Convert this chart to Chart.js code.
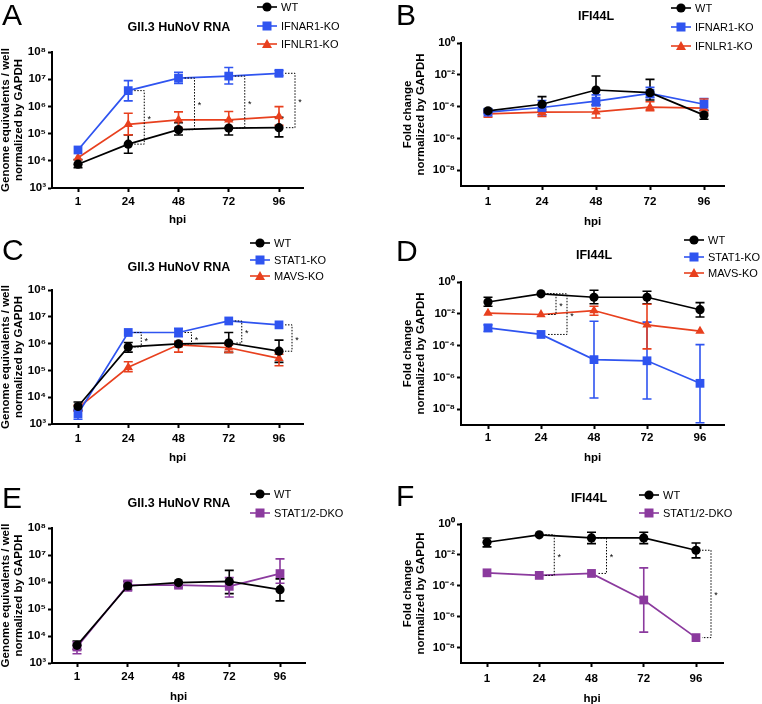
<!DOCTYPE html>
<html>
<head>
<meta charset="utf-8">
<script src="https://cdn.jsdelivr.net/npm/chart.js"></script>
<style>
  body { margin: 0; background: #fff; font-family: "Liberation Sans", Arial, sans-serif; color: #000; }
  #fig { position: relative; width: 762px; height: 704px; overflow: hidden; }
  #fig canvas { position: absolute; }
  .letter { position: absolute; font-size: 30px; line-height: 30px; }
  .ttl { position: absolute; font-size: 12.5px; font-weight: bold; white-space: nowrap; transform: translate(-50%, -50%); }
  .leg { position: absolute; font-size: 11px; white-space: nowrap; display: flex; align-items: center; transform: translateY(-50%); }
  .leg svg { margin-right: 4px; }
</style>
</head>
<body>
<div id="fig"></div>
<script>
// =============== data ===============
const HPI = ["1", "24", "48", "72", "96"];

// A - GII.3 HuNoV RNA, IFN receptor KOs
const A_WT         = [7.5e3, 4.1e4, 1.4e5, 1.6e5, 1.65e5];
const A_WT_ERR     = [[5.6e3, 1.1e4], [1.9e4, 9e4], [8.9e4, 2.5e5], [8.9e4, 3.2e5], [7.6e4, 4e5]];
const A_IFNAR1     = [2.5e4, 3.8e6, 1.1e7, 1.3e7, 1.65e7];
const A_IFNAR1_ERR = [null, [1.6e6, 8.9e6], [7e6, 1.8e7], [6.7e6, 2.7e7], [1.35e7, 2.1e7]];
const A_IFNLR1     = [1.3e4, 2.2e5, 3.2e5, 3.2e5, 4.2e5];
const A_IFNLR1_ERR = [null, [9e4, 5.6e5], [1.6e5, 6.3e5], [1.6e5, 6.5e5], [2e5, 9.8e5]];
const A_SIG        = [[1, 1, 0], [2, 1, 0], [3, 1, 0], [4, 1, 0]]; // [hpi idx, series, series]

// B - IFI44L, IFN receptor KOs
const B_WT         = [5.4e-5, 1.4e-4, 1.1e-3, 7.5e-4, 2.9e-5];
const B_WT_ERR     = [[4e-5, 7e-5], [4.9e-5, 4.2e-4], [1.3e-4, 8.3e-3], [2.6e-4, 5.1e-3], [1.6e-5, 5.4e-5]];
const B_IFNAR1     = [4.4e-5, 8.7e-5, 2.2e-4, 6.8e-4, 1.4e-4];
const B_IFNAR1_ERR = [[3.5e-5, 5.5e-5], [3e-5, 2.4e-4], [1.1e-4, 5.4e-4], [3.6e-4, 1.6e-3], [6.3e-5, 3.2e-4]];
const B_IFNLR1     = [3.5e-5, 4.4e-5, 4.6e-5, 9.1e-5, 7.9e-5];
const B_IFNLR1_ERR = [[2.1e-5, 4.5e-5], [2.4e-5, 6.5e-5], [1.9e-5, 7.5e-5], [5.4e-5, 2e-4], [4e-5, 3e-4]];

// C - GII.3 HuNoV RNA, STAT1 / MAVS KOs
const C_WT        = [4.5e3, 7.5e5, 9.7e5, 1.05e6, 5.2e5];
const C_WT_ERR    = [[3.2e3, 6.6e3], [4.8e5, 1.1e6], [8e5, 1.2e6], [4.7e5, 2.6e6], [2e5, 1.35e6]];
const C_STAT1     = [2.4e3, 2.6e6, 2.6e6, 7e6, 5e6];
const C_STAT1_ERR = [[1.5e3, 3.6e3], null, [1.8e6, 3.7e6], null, null];
const C_MAVS      = [4e3, 1.3e5, 9e5, 7e5, 2.8e5];
const C_MAVS_ERR  = [[3e3, 5e3], [9e4, 2.1e5], [4.8e5, 1.2e6], [4.7e5, 9e5], [1.5e5, 4e5]];
const C_SIG       = [[1, 1, 0], [2, 1, 0], [3, 1, 0], [4, 1, 0]];

// D - IFI44L, STAT1 / MAVS KOs
const D_WT        = [0.055, 0.18, 0.11, 0.11, 0.018];
const D_WT_ERR    = [[0.03, 0.11], null, [0.043, 0.3], [0.043, 0.26], [0.0063, 0.05]];
const D_STAT1     = [1.3e-3, 5e-4, 1.3e-5, 1.1e-5, 4.2e-7];
const D_STAT1_ERR = [[7.6e-4, 2e-3], null, [5e-8, 3.4e-3], [4.3e-8, 3e-3], [1.4e-9, 1.15e-4]];
const D_MAVS      = [0.011, 9e-3, 0.016, 2e-3, 8.1e-4];
const D_MAVS_ERR  = [null, null, [8e-3, 0.03], [6.2e-5, 0.04], null];
const D_SIG       = [[1, 0, 2, 0], [1, 0, 1, 1]]; // last = bracket tier

// E - GII.3 HuNoV RNA, STAT1/2 DKO
const E_WT      = [4.5e3, 7.1e5, 9.5e5, 1.05e6, 5.2e5];
const E_WT_ERR  = [[3.2e3, 6.5e3], [5.2e5, 1.05e6], null, [3.7e5, 2.7e6], [2e5, 1.3e6]];
const E_DKO     = [3.9e3, 7.6e5, 7.6e5, 6.9e5, 2.05e6];
const E_DKO_ERR = [[2.2e3, 6e3], [4.7e5, 1.15e6], [6.5e5, 9e5], [2.8e5, 1.45e6], [9e5, 7.2e6]];

// F - IFI44L, STAT1/2 DKO
const F_WT      = [0.066, 0.2, 0.125, 0.125, 0.02];
const F_WT_ERR  = [[0.033, 0.125], null, [0.054, 0.29], [0.054, 0.29], [0.0064, 0.059]];
const F_DKO     = [6.9e-4, 4.7e-4, 6.3e-4, 1.2e-5, 4.4e-8];
const F_DKO_ERR = [null, null, null, [1e-7, 1.45e-3], null];
const F_SIG     = [[1, 0, 1], [2, 0, 1], [4, 0, 1]];

// =============== styles ===============
const BLACK = "#000000", BLUE = "#2f54f0", RED = "#e8401e", PURPLE = "#8b3a9e";
const RADIUS = { circle: 4.6, rect: 6.2, triangle: 5.4 };
const FONT = '"Liberation Sans", Arial, sans-serif';
const SUP = { "0": "\u2070", "1": "\u00b9", "2": "\u00b2", "3": "\u00b3", "4": "\u2074", "5": "\u2075",
              "6": "\u2076", "7": "\u2077", "8": "\u2078", "9": "\u2079", "-": "\u207b" };

const RNA_TITLE = ["Genome equivalents / well", "normalized by GAPDH"];
const FC_TITLE  = ["Fold change", "normalized by GAPDH"];

const panels = [
  { letter: "A", box: [0, 0, 381, 235], area: [52, 52, 303, 188], ytl: 0, labY: 202, hpiY: 220, t0: 78, sp: 50.25,
    yMin: 1e3, yMax: 1e8, exps: [3, 4, 5, 6, 7, 8], ytitle: RNA_TITLE,
    title: "GII.3 HuNoV RNA", titleXY: [179, 27], letterXY: [2, 0], legXY: [257, 7], legGap: 18.5,
    series: [["WT", A_WT, A_WT_ERR, BLACK, "circle"], ["IFNAR1-KO", A_IFNAR1, A_IFNAR1_ERR, BLUE, "rect"], ["IFNLR1-KO", A_IFNLR1, A_IFNLR1_ERR, RED, "triangle"]],
    sig: A_SIG, sigDx: 16, sigStep: 0 },
  { letter: "B", box: [381, 0, 381, 235], area: [461, 43, 724, 186], ytl: 402, labY: 202, hpiY: 222, t0: 488, sp: 54,
    yMin: 1e-9, yMax: 1, exps: [0, -2, -4, -6, -8], ytitle: FC_TITLE,
    title: "IFI44L", titleXY: [596, 16], letterXY: [396, 0], legXY: [671, 8], legGap: 19,
    series: [["WT", B_WT, B_WT_ERR, BLACK, "circle"], ["IFNAR1-KO", B_IFNAR1, B_IFNAR1_ERR, BLUE, "rect"], ["IFNLR1-KO", B_IFNLR1, B_IFNLR1_ERR, RED, "triangle"]],
    sig: [], sigDx: 0, sigStep: 0 },
  { letter: "C", box: [0, 235, 381, 235], area: [52, 290, 303, 424], ytl: 0, labY: 439, hpiY: 458, t0: 78, sp: 50.25,
    yMin: 1e3, yMax: 1e8, exps: [3, 4, 5, 6, 7, 8], ytitle: RNA_TITLE,
    title: "GII.3 HuNoV RNA", titleXY: [179, 267], letterXY: [2, 235], legXY: [250, 243], legGap: 16.5,
    series: [["WT", C_WT, C_WT_ERR, BLACK, "circle"], ["STAT1-KO", C_STAT1, C_STAT1_ERR, BLUE, "rect"], ["MAVS-KO", C_MAVS, C_MAVS_ERR, RED, "triangle"]],
    sig: C_SIG, sigDx: 13, sigStep: 0 },
  { letter: "D", box: [381, 235, 381, 235], area: [461, 282, 724, 425], ytl: 402, labY: 438, hpiY: 458, t0: 488, sp: 53,
    yMin: 1e-9, yMax: 1, exps: [0, -2, -4, -6, -8], ytitle: FC_TITLE,
    title: "IFI44L", titleXY: [594, 255], letterXY: [396, 236], legXY: [684, 240], legGap: 16.5,
    series: [["WT", D_WT, D_WT_ERR, BLACK, "circle"], ["STAT1-KO", D_STAT1, D_STAT1_ERR, BLUE, "rect"], ["MAVS-KO", D_MAVS, D_MAVS_ERR, RED, "triangle"]],
    sig: D_SIG, sigDx: 15, sigStep: 11 },
  { letter: "E", box: [0, 470, 381, 234], area: [52, 528, 305, 663], ytl: 0, labY: 677, hpiY: 697, t0: 77, sp: 50.75,
    yMin: 1e3, yMax: 1e8, exps: [3, 4, 5, 6, 7, 8], ytitle: RNA_TITLE,
    title: "GII.3 HuNoV RNA", titleXY: [179, 503], letterXY: [2, 483], legXY: [250, 494], legGap: 19,
    series: [["WT", E_WT, E_WT_ERR, BLACK, "circle"], ["STAT1/2-DKO", E_DKO, E_DKO_ERR, PURPLE, "rect"]],
    sig: [], sigDx: 0, sigStep: 0 },
  { letter: "F", box: [381, 470, 381, 234], area: [461, 524, 723, 663], ytl: 402, labY: 679, hpiY: 699, t0: 487, sp: 52.25,
    yMin: 1e-9, yMax: 1, exps: [0, -2, -4, -6, -8], ytitle: FC_TITLE,
    title: "IFI44L", titleXY: [589, 498], letterXY: [396, 481], legXY: [639, 495], legGap: 18,
    series: [["WT", F_WT, F_WT_ERR, BLACK, "circle"], ["STAT1/2-DKO", F_DKO, F_DKO_ERR, PURPLE, "rect"]],
    sig: F_SIG, sigDx: 15, sigStep: 0 },
];

// =============== plugins ===============
const errorBars = {
  id: "errorBars",
  beforeDatasetsDraw(chart) {
    const { ctx, chartArea: a, scales: { x, y } } = chart;
    ctx.save();
    ctx.beginPath(); ctx.rect(a.left, a.top - 2, a.right - a.left, a.bottom - a.top + 2); ctx.clip();
    chart.data.datasets.forEach(ds => {
      if (!ds.err) return;
      ctx.strokeStyle = ds.borderColor;
      ctx.lineWidth = 1.6;
      ds.err.forEach((e, i) => {
        if (!e) return;
        const px = x.getPixelForValue(i);
        const lo = y.getPixelForValue(e[0]), hi = y.getPixelForValue(e[1]);
        ctx.beginPath();
        ctx.moveTo(px, lo); ctx.lineTo(px, hi);
        ctx.moveTo(px - 4.5, lo); ctx.lineTo(px + 4.5, lo);
        ctx.moveTo(px - 4.5, hi); ctx.lineTo(px + 4.5, hi);
        ctx.stroke();
      });
    });
    ctx.restore();
  }
};

const sigBrackets = {
  id: "sigBrackets",
  afterDatasetsDraw(chart, args, opts) {
    if (!opts.pairs || !opts.pairs.length) return;
    const { ctx, scales: { x, y } } = chart;
    const ds = chart.data.datasets;
    ctx.save();
    ctx.strokeStyle = "#000"; ctx.lineWidth = 1; ctx.setLineDash([1.5, 1.5]);
    ctx.fillStyle = "#000"; ctx.font = "9px " + FONT; ctx.textAlign = "center"; ctx.textBaseline = "middle";
    opts.pairs.forEach(([i, a, b, tier = 0]) => {
      const px = x.getPixelForValue(i);
      const ya = y.getPixelForValue(ds[a].data[i].y), yb = y.getPixelForValue(ds[b].data[i].y);
      const vx = px + opts.dx + tier * opts.step;
      ctx.beginPath();
      ctx.moveTo(px + 6, ya); ctx.lineTo(vx, ya); ctx.lineTo(vx, yb); ctx.lineTo(px + 6, yb);
      ctx.stroke();
      ctx.fillText("*", vx + 5, (ya + yb) / 2 + 2);
    });
    ctx.restore();
  }
};

// =============== helpers ===============
const sup = n => String(n).split("").map(c => SUP[c]).join("");

function markerSvg(color, shape) {
  let m;
  if (shape === "circle") m = `<circle cx="10" cy="6" r="4.6" fill="${color}"/>`;
  else if (shape === "rect") m = `<rect x="5.5" y="1.5" width="9" height="9" fill="${color}"/>`;
  else m = `<polygon points="10,1 15,10 5,10" fill="${color}"/>`;
  return `<svg width="20" height="12"><line x1="0" y1="6" x2="20" y2="6" stroke="${color}" stroke-width="1.6"/>${m}</svg>`;
}

function addDiv(cls, html, left, top) {
  const d = document.createElement("div");
  d.className = cls; d.innerHTML = html;
  d.style.left = left + "px"; d.style.top = top + "px";
  document.getElementById("fig").appendChild(d);
}

// =============== build ===============
const FS = 11.5;
const axisFont = { family: FONT, size: FS, weight: "bold", lineHeight: 1.1 };

function buildPanel(p) {
  const [bx, by, bw, bh] = p.box;
  const [L, T, R, B] = p.area;
  const lh = FS * 1.1;
  const xBottom = p.hpiY + lh / 2;

  const cv = document.createElement("canvas");
  cv.width = bw; cv.height = bh;
  cv.style.left = bx + "px"; cv.style.top = by + "px";
  document.getElementById("fig").appendChild(cv);

  const datasets = p.series.map(([label, vals, err, color, shape]) => ({
    label,
    data: vals.map((v, i) => ({ x: i, y: v })),
    err,
    borderColor: color, backgroundColor: color,
    borderWidth: 1.7, tension: 0,
    pointStyle: shape, pointRadius: RADIUS[shape], pointBorderWidth: 0, pointHoverRadius: RADIUS[shape],
  }));

  new Chart(cv.getContext("2d"), {
    type: "line",
    data: { datasets },
    plugins: [errorBars, sigBrackets],
    options: {
      responsive: false, animation: false, devicePixelRatio: 1,
      layout: { padding: { left: p.ytl - bx, top: T - by, right: bx + bw - R, bottom: by + bh - xBottom } },
      plugins: {
        legend: { display: false }, tooltip: { enabled: false },
        sigBrackets: { pairs: p.sig, dx: p.sigDx, step: p.sigStep },
      },
      scales: {
        x: {
          type: "linear",
          min: (L - p.t0) / p.sp, max: (R - p.t0) / p.sp,
          afterBuildTicks: s => { s.ticks = HPI.map((_, i) => ({ value: i })); },
          afterFit: s => { s.height = xBottom - B; },
          ticks: { callback: v => HPI[v], color: "#000", font: axisFont, padding: p.labY - B - 4 - lh / 2, maxRotation: 0, autoSkip: false },
          grid: { drawOnChartArea: false, tickLength: 4, tickColor: "#000", tickWidth: 2 },
          border: { color: "#000", width: 2 },
          title: { display: true, text: "hpi", color: "#000", font: axisFont, padding: 0 },
        },
        y: {
          type: "logarithmic", min: p.yMin, max: p.yMax,
          afterBuildTicks: s => { s.ticks = p.exps.map(e => ({ value: Math.pow(10, e) })); },
          afterFit: s => { s.width = L - p.ytl; },
          ticks: { callback: v => "10" + sup(Math.round(Math.log10(v))), color: "#000", font: axisFont, padding: 2 },
          grid: { drawOnChartArea: false, tickLength: 4, tickColor: "#000", tickWidth: 2 },
          border: { color: "#000", width: 2 },
          title: { display: true, text: p.ytitle, color: "#000", font: axisFont, padding: 0 },
        },
      },
    },
  });

  // overlays: letter, title, legend
  addDiv("letter", p.letter, p.letterXY[0], p.letterXY[1]);
  addDiv("ttl", p.title, p.titleXY[0], p.titleXY[1]);
  p.series.forEach(([label, , , color, shape], k) => {
    addDiv("leg", markerSvg(color, shape) + label, p.legXY[0], p.legXY[1] + k * p.legGap);
  });
}

panels.forEach(buildPanel);
</script>
</body>
</html>
